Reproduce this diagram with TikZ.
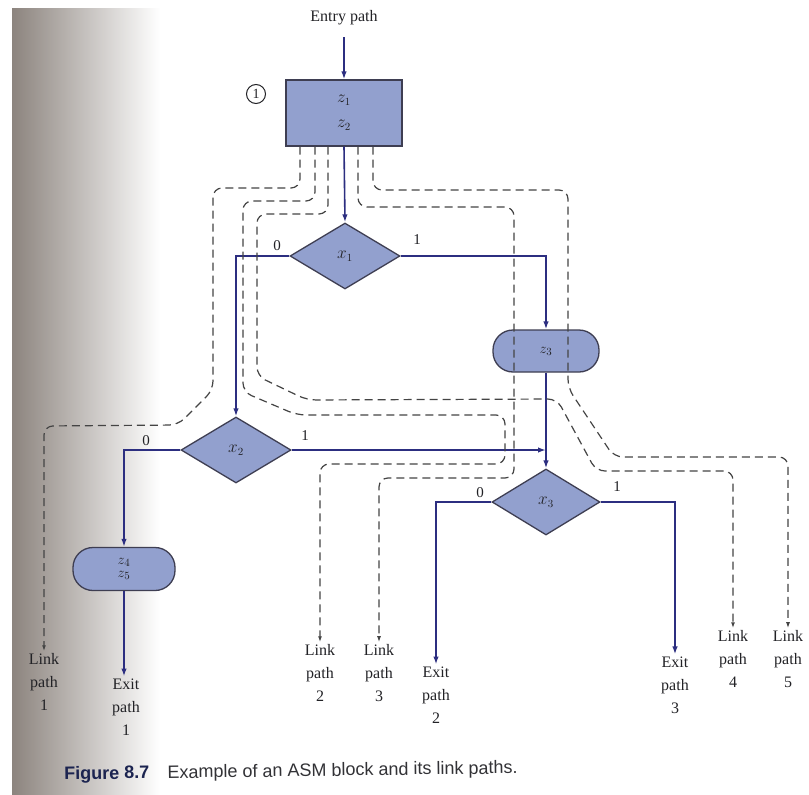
\documentclass[tikz,border=0pt]{standalone}
\usepackage{fontspec}
\setmainfont{Liberation Serif}
\newfontfamily\capfont{Liberation Sans}
\usetikzlibrary{shapes.geometric,arrows.meta}

\definecolor{asmfill}{RGB}{146,160,206}
\definecolor{asmedge}{RGB}{62,62,82}
\definecolor{flowline}{RGB}{44,46,128}
\definecolor{linkline}{RGB}{68,68,68}
\definecolor{inktext}{RGB}{34,34,38}
\definecolor{figblue}{RGB}{28,36,80}
\definecolor{captext}{RGB}{50,50,54}

\begin{document}
\begin{tikzpicture}[x=1pt,y=-1pt,
  every node/.style={text=inktext},
  lbl/.style={align=center, inner sep=2pt, font=\fontsize{16}{23}\selectfont},
  statebox/.style={draw=asmedge, line width=1.3pt, fill=asmfill, rectangle,
    minimum width=116pt, minimum height=66pt, align=center,
    font=\fontsize{16}{25}\selectfont},
  decision/.style={draw=asmedge, line width=1.3pt, fill=asmfill, diamond,
    minimum width=110pt, minimum height=66pt, inner sep=0pt,
    font=\fontsize{16}{18}\selectfont},
  condbox/.style={draw=asmedge, line width=1.3pt, fill=asmfill, rectangle,
    rounded corners=20pt, minimum width=106pt, minimum height=42pt,
    align=center, inner sep=1pt, font=\fontsize{15}{17}\selectfont},
  statenum/.style={draw=inktext, line width=1pt, circle, minimum size=19pt,
    inner sep=0pt, font=\fontsize{14}{16}\selectfont},
  branch/.style={font=\fontsize{15}{16}\selectfont, inner sep=1pt},
  flow/.style={draw=flowline, line width=1.6pt,
    -{Latex[length=8pt,width=5.5pt]}},
  link/.style={draw=linkline, line width=1.2pt, dash pattern=on 8pt off 5pt,
    rounded corners=9pt, -{Latex[length=6pt,width=4pt]}},
]
\useasboundingbox (0,0) rectangle (809,795);
\fill[white] (0,0) rectangle (809,795);
% shadow of the book's binding along the left edge
\shade[left color={rgb,255:red,140;green,132;blue,126},
       middle color={rgb,255:red,214;green,209;blue,203},
       right color=white] (12,8) rectangle (160,795);

% ASM block
\node[lbl] (entry) at (344,18) {Entry path};
\node[statebox] (s1) at (344,113) {$z_1$\\$z_2$};
\node[statenum] (num) at (256,94) {1};
\node[decision] (x1) at (345,256) {$x_1$};
\node[condbox] (z3) at (546,351) {$z_3$};
\node[decision] (x2) at (236,450) {$x_2$};
\node[condbox, minimum width=102pt, minimum height=43pt] (z45) at (124,569) {$z_4$\\[-4pt]$z_5$};
\node[decision, minimum width=108pt] (x3) at (546,502) {$x_3$};

% branch values
\node[branch] (b10) at (277,246) {0};
\node[branch] (b11) at (417,240) {1};
\node[branch] (b20) at (146,441) {0};
\node[branch] (b21) at (305,436) {1};
\node[branch] (b30) at (480,493) {0};
\node[branch] (b31) at (617,487) {1};

% exit and link labels
\node[lbl] (l1) at (44,682) {Link\\path\\1};
\node[lbl] (e1) at (126,707) {Exit\\path\\1};
\node[lbl] (l2) at (320,673) {Link\\path\\2};
\node[lbl] (l3) at (379,673) {Link\\path\\3};
\node[lbl] (e2) at (436,695) {Exit\\path\\2};
\node[lbl] (e3) at (675,685) {Exit\\path\\3};
\node[lbl] (l4) at (733,659) {Link\\path\\4};
\node[lbl] (l5) at (788,659) {Link\\path\\5};

% control flow through the block
\draw[flow] ([yshift=-10pt]entry.south) -- (s1.north);
\draw[flow] (s1.south) -- (x1.north);
\draw[flow] (x1.west) -| (x2.north);
\draw[flow] (x1.east) -| (z3.north);
\draw[flow] (z3.south) -- (x3.north);
\draw[flow] (x2.east) -- (x2.east -| x3.north);
\draw[flow] (x2.west) -| (z45.north);
\draw[flow] (z45.south) -- (z45.south |- e1.north);
\draw[flow] (x3.west) -| (e2.north);
\draw[flow] (x3.east) -| (e3.north);

% link paths
\draw[link] ([xshift=-44pt]s1.south) -- (300,188) -- (213,188) -- (213,390)
  -- (178,425) -- (44,426) -- (l1.north);
\draw[link] ([xshift=-29pt]s1.south) -- (315,201) -- (243,201) -- (243,392)
  -- (297,415) -- (505,415) -- (505,464) -- (320,464) -- (l2.north);
\draw[link] ([xshift=-16pt]s1.south) -- (328,214) -- (257,214) -- (257,376)
  -- (307,400) -- (557,399) -- (596,471) -- (733,471) -- (l4.north);
\draw[link] ([xshift=14pt]s1.south) -- (358,207) -- (514,207) -- (514,478)
  -- (379,478) -- (l3.north);
\draw[link] ([xshift=29pt]s1.south) -- (373,190) -- (568,190) -- (568,388)
  -- (614,457) -- (788,457) -- (l5.north);

% caption
\node[inner sep=0pt, rotate=0.8, text=captext,
      font=\capfont\fontsize{18}{21}\selectfont]
  (cap) at (291,772)
  {\textcolor{figblue}{\textbf{Figure 8.7}}\quad Example of an ASM block and its link paths.};
\end{tikzpicture}
\end{document}
